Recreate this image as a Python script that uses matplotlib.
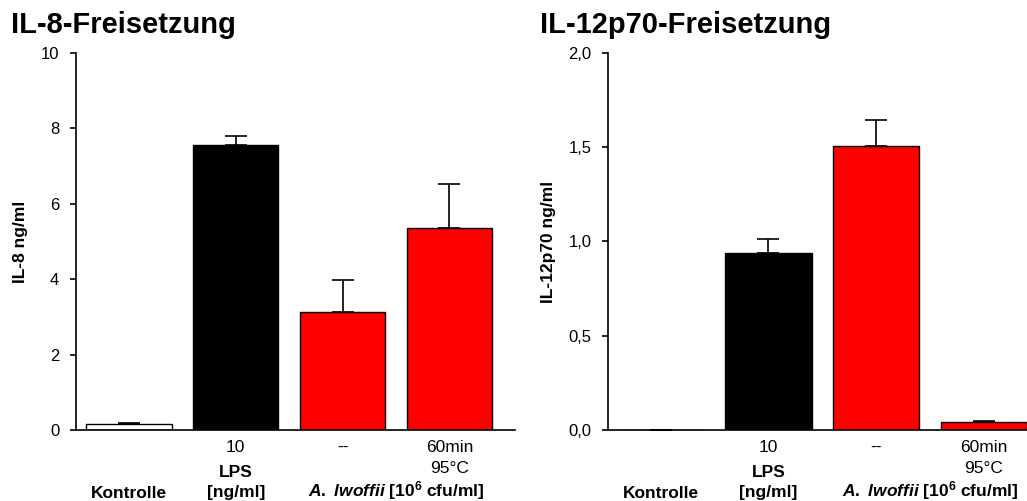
import matplotlib.pyplot as plt
import numpy as np

plt.rcParams['font.family'] = ['Liberation Sans', 'DejaVu Sans']
plt.rcParams['mathtext.fontset'] = 'custom'
plt.rcParams['mathtext.it'] = 'Liberation Sans:italic:bold'
plt.rcParams['mathtext.rm'] = 'Liberation Sans:bold'

groups = ["Kontrolle", "LPS", "A. lwoffii", "A. lwoffii hitze"]
colors = ["white", "black", "#ff0000", "#ff0000"]

il8_values = [0.15, 7.57, 3.12, 5.37]
il8_errors = [0.04, 0.24, 0.86, 1.15]

il12_values = [0.0, 0.94, 1.505, 0.042]
il12_errors = [0.0, 0.075, 0.14, 0.006]

sub_labels = ["", "10", "--", "60min"]

fig = plt.figure(figsize=(10.27, 5.01), dpi=100)

def px(y):
    # pixel row below the x axis -> axes fraction (axis at row 430, height 377)
    return (430 - y) / 377.0

def make_panel(rect, values, errors, title, ylabel, yticks, yticklabels, xlim, title_x):
    ax = fig.add_axes(rect)
    x = np.arange(len(values))
    ax.bar(x, values, width=0.8, color=colors, edgecolor="black", linewidth=1.0,
           yerr=[np.zeros(len(errors)), errors], capsize=8,
           error_kw=dict(ecolor="black", elinewidth=1.2, capthick=1.2))
    ax.set_xlim(*xlim)
    ax.set_ylim(0, yticks[-1])
    ax.set_yticks(yticks)
    ax.set_yticklabels(yticklabels, fontsize=12)
    ax.set_xticks([])
    ax.spines["top"].set_visible(False)
    ax.spines["right"].set_visible(False)
    ax.spines["left"].set_linewidth(1.2)
    ax.spines["bottom"].set_linewidth(1.2)
    ax.tick_params(axis="y", direction="out", length=4, width=1.2, pad=8)
    ax.set_ylabel(ylabel, fontsize=12.5, fontweight="bold", labelpad=9)
    fig.text(title_x, 1 - 33 / 501, title, fontsize=21, fontweight="bold",
             ha="left", va="baseline")

    tr = ax.get_xaxis_transform()
    for i, s in enumerate(sub_labels):
        ax.text(x[i], px(452), s, transform=tr, ha="center", va="baseline", fontsize=12.5)
    ax.text(x[3], px(473), "95°C", transform=tr, ha="center", va="baseline", fontsize=12.5)
    ax.text(x[1], px(477), "LPS", transform=tr, ha="center", va="baseline",
            fontsize=12.5, fontweight="bold")
    ax.text(x[1], px(497), "[ng/ml]", transform=tr, ha="center", va="baseline",
            fontsize=12.5, fontweight="bold")
    ax.text(x[0], px(498), "Kontrolle", transform=tr, ha="center", va="baseline",
            fontsize=12.5, fontweight="bold")
    ax.text((x[2] + x[3]) / 2, px(497), r"$\it{A.\ lwoffii}$ [10$^{6}$ cfu/ml]",
            transform=tr, ha="center", va="baseline", fontsize=12.5, fontweight="bold")
    return ax

make_panel([0.074, 0.142, 0.427, 0.752], il8_values, il8_errors,
           "IL-8-Freisetzung", "IL-8 ng/ml",
           [0, 2, 4, 6, 8, 10], ["0", "2", "4", "6", "8", "10"], (-0.495, 3.61),
           11 / 1027)
make_panel([0.592, 0.142, 0.408, 0.752], il12_values, il12_errors,
           "IL-12p70-Freisetzung", "IL-12p70 ng/ml",
           [0, 0.5, 1.0, 1.5, 2.0], ["0,0", "0,5", "1,0", "1,5", "2,0"], (-0.49, 3.40),
           540 / 1027)

fig.savefig("out.png", dpi=100)
